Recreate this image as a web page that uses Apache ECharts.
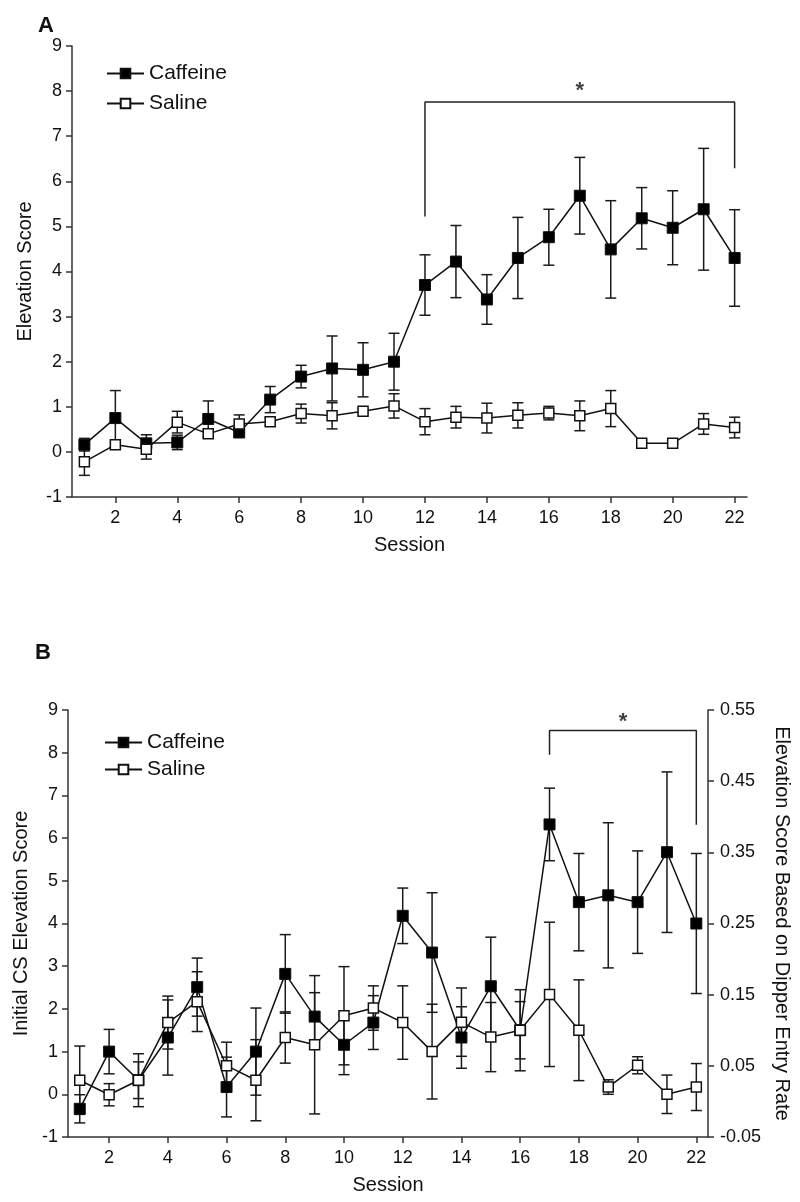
<!DOCTYPE html>
<html>
<head>
<meta charset="utf-8">
<title>Elevation score by session</title>
<script src="https://cdn.jsdelivr.net/npm/echarts@6/dist/echarts.min.js"></script>
<style>
  html, body { margin: 0; padding: 0; background: #fff; }
  #chart { width: 800px; height: 1202px; }
</style>
</head>
<body>
<div id="chart"></div>
<script>
// sessions and x tick labels
var sessions = [1,2,3,4,5,6,7,8,9,10,11,12,13,14,15,16,17,18,19,20,21,22];
var sessionTicks = [2,4,6,8,10,12,14,16,18,20,22];

// panel A - elevation score (mean, sem)
var caffeineA    = [0.16,0.75,0.19,0.21,0.73,0.43,1.16,1.67,1.85,1.82,2.00,3.70,4.22,3.38,4.30,4.76,5.68,4.49,5.18,4.97,5.38,4.30];
var caffeineErrA = [0.14,0.61,0.19,0.16,0.40,0.07,0.29,0.25,0.72,0.60,0.63,0.67,0.80,0.55,0.90,0.62,0.85,1.08,0.68,0.82,1.35,1.07];
var salineA      = [-0.22,0.16,0.06,0.66,0.40,0.62,0.67,0.85,0.80,0.90,1.02,0.67,0.77,0.75,0.81,0.86,0.80,0.96,0.19,0.19,0.62,0.54];
var salineErrA   = [0.30,0.05,0.22,0.24,0.08,0.20,0.08,0.21,0.29,0.05,0.27,0.29,0.24,0.33,0.28,0.15,0.33,0.40,0.00,0.00,0.23,0.23];

// panel B - initial CS elevation score (mean, sem)
var caffeineB    = [-0.34,1.00,0.33,1.33,2.51,0.17,1.00,2.82,1.82,1.16,1.68,4.18,3.32,1.33,2.53,1.50,6.32,4.50,4.66,4.50,5.67,4.00];
var caffeineErrB = [0.33,0.52,0.43,0.88,0.68,0.70,1.02,0.92,0.56,0.70,0.63,0.65,1.40,0.72,1.15,0.95,0.85,1.14,1.70,1.20,1.88,1.64];
var salineB      = [0.33,-0.01,0.33,1.68,2.17,0.67,0.33,1.33,1.16,1.84,2.02,1.68,1.00,1.69,1.34,1.50,2.34,1.50,0.17,0.68,0.00,0.17];
var salineErrB   = [0.80,0.26,0.62,0.62,0.70,0.55,0.95,0.60,1.62,1.15,0.52,0.86,1.11,0.80,0.81,0.67,1.69,1.18,0.17,0.20,0.45,0.55];

// significance brackets
var bracketA = [[12,5.22],[12,7.76],[22,7.76],[22,6.29]];
var starA = [[17,8.0]];
var bracketB = [[17,7.95],[17,8.52],[22,8.52],[22,6.31]];
var starB = [[19.5,8.73]];

var INK = '#111';
var FONT = '"Liberation Sans", Arial, Helvetica, sans-serif';

function pairs(xs, ys) {
    return xs.map(function (x, i) { return [x, ys[i]]; });
}
function bars(xs, ys, es) {
    return xs.map(function (x, i) { return [x, ys[i] - es[i], ys[i] + es[i]]; });
}

function renderErrorBar(params, api) {
    var x = api.value(0);
    var lo = api.coord([x, api.value(1)]);
    var hi = api.coord([x, api.value(2)]);
    var w = 5.5;
    var st = { stroke: '#1a1a1a', lineWidth: 1.5 };
    return {
        type: 'group',
        children: [
            { type: 'line', shape: { x1: hi[0], y1: hi[1], x2: lo[0], y2: lo[1] }, style: st },
            { type: 'line', shape: { x1: hi[0] - w, y1: hi[1], x2: hi[0] + w, y2: hi[1] }, style: st },
            { type: 'line', shape: { x1: lo[0] - w, y1: lo[1], x2: lo[0] + w, y2: lo[1] }, style: st }
        ]
    };
}

function errorSeries(name, data, g) {
    return {
        name: name, type: 'custom', xAxisIndex: g, yAxisIndex: g === 0 ? 0 : 1,
        renderItem: renderErrorBar, encode: { x: 0, y: [1, 2] },
        data: data, z: 1, silent: true
    };
}

function caffeineSeries(data, g) {
    return {
        name: 'Caffeine', type: 'line', xAxisIndex: g, yAxisIndex: g === 0 ? 0 : 1,
        data: data, symbol: 'rect', symbolSize: 11, z: 3,
        lineStyle: { color: INK, width: 1.5 },
        itemStyle: { color: '#000', borderColor: '#111', borderWidth: 1 }
    };
}

function salineSeries(data, g) {
    return {
        name: 'Saline', type: 'line', xAxisIndex: g, yAxisIndex: g === 0 ? 0 : 1,
        data: data, symbol: 'rect', symbolSize: 10, z: 4,
        lineStyle: { color: INK, width: 1.5 },
        itemStyle: { color: '#fff', borderColor: '#111', borderWidth: 1.5 }
    };
}

function bracketSeries(data, star, g) {
    return [{
        name: 'bracket' + g, type: 'line', xAxisIndex: g, yAxisIndex: g === 0 ? 0 : 1,
        data: data, symbol: 'none', silent: true, z: 2,
        lineStyle: { color: '#222', width: 1.5 }
    }, {
        name: 'star' + g, type: 'scatter', xAxisIndex: g, yAxisIndex: g === 0 ? 0 : 1,
        data: star, symbolSize: 0, silent: true,
        label: { show: true, position: 'inside', formatter: '*', color: INK,
                 fontSize: 22, fontWeight: 'bold', fontFamily: FONT }
    }];
}

var axisLine = { show: true, onZero: false, lineStyle: { color: '#333', width: 1.5 } };
var axisTick = { show: true, length: 6, lineStyle: { color: '#333', width: 1.5 } };
var labelStyle = { color: INK, fontSize: 18, fontFamily: FONT };
var nameStyle = { color: INK, fontSize: 20, fontFamily: FONT };

function sessionAxis(g) {
    return {
        type: 'value', gridIndex: g, min: 0.6, max: 22.4,
        name: 'Session', nameLocation: 'middle', nameGap: 38, nameTextStyle: nameStyle,
        axisLine: axisLine,
        axisTick: { show: true, length: 6, lineStyle: { color: '#333', width: 1.5 }, customValues: sessionTicks },
        axisLabel: Object.assign({ margin: 12, customValues: sessionTicks }, labelStyle),
        splitLine: { show: false }
    };
}

var legendBase = {
    orient: 'vertical', itemWidth: 37, itemHeight: 12, padding: 0,
    data: ['Caffeine', 'Saline'],
    textStyle: { color: INK, fontSize: 21, fontFamily: FONT },
    selectedMode: false
};

var chart = echarts.init(document.getElementById('chart'), null, { renderer: 'canvas' });

var series = [
    errorSeries('errCaffeineA', bars(sessions, caffeineA, caffeineErrA), 0),
    errorSeries('errSalineA', bars(sessions, salineA, salineErrA), 0),
    caffeineSeries(pairs(sessions, caffeineA), 0),
    salineSeries(pairs(sessions, salineA), 0),
    errorSeries('errCaffeineB', bars(sessions, caffeineB, caffeineErrB), 1),
    errorSeries('errSalineB', bars(sessions, salineB, salineErrB), 1),
    caffeineSeries(pairs(sessions, caffeineB), 1),
    salineSeries(pairs(sessions, salineB), 1)
].concat(bracketSeries(bracketA, starA, 0), bracketSeries(bracketB, starB, 1));

chart.setOption({
    animation: false,
    backgroundColor: '#fff',
    title: [
        { text: 'A', left: 38, top: 15, padding: 0,
          textStyle: { color: INK, fontSize: 22, fontWeight: 'bold', fontFamily: FONT } },
        { text: 'B', left: 35, top: 642, padding: 0,
          textStyle: { color: INK, fontSize: 22, fontWeight: 'bold', fontFamily: FONT } }
    ],
    legend: [
        Object.assign({ left: 106, top: 63, itemGap: 9 }, legendBase),
        Object.assign({ left: 104, top: 732, itemGap: 6 }, legendBase)
    ],
    grid: [
        { left: 72, right: 53, top: 46, height: 451 },
        { left: 68, right: 90, top: 710, height: 427 }
    ],
    xAxis: [sessionAxis(0), sessionAxis(1)],
    yAxis: [
        {
            type: 'value', gridIndex: 0, min: -1, max: 9, interval: 1,
            name: 'Elevation Score', nameLocation: 'middle', nameGap: 35, nameTextStyle: nameStyle,
            axisLine: axisLine, axisTick: axisTick,
            axisLabel: Object.assign({ margin: 10 }, labelStyle),
            splitLine: { show: false }
        },
        {
            type: 'value', gridIndex: 1, min: -1, max: 9, interval: 1,
            name: 'Initial CS Elevation Score', nameLocation: 'middle', nameGap: 33, nameTextStyle: nameStyle,
            axisLine: axisLine, axisTick: axisTick,
            axisLabel: Object.assign({ margin: 10 }, labelStyle),
            splitLine: { show: false }
        },
        {
            type: 'value', gridIndex: 1, position: 'right', min: -0.05, max: 0.55, interval: 0.1,
            name: 'Elevation Score Based on Dipper Entry Rate', nameLocation: 'middle',
            nameRotate: -90, nameGap: 53, nameTextStyle: nameStyle,
            axisLine: axisLine, axisTick: axisTick,
            axisLabel: Object.assign({ margin: 12, formatter: function (v) { return v.toFixed(2); } }, labelStyle),
            splitLine: { show: false }
        }
    ],
    series: series
});
</script>
</body>
</html>
